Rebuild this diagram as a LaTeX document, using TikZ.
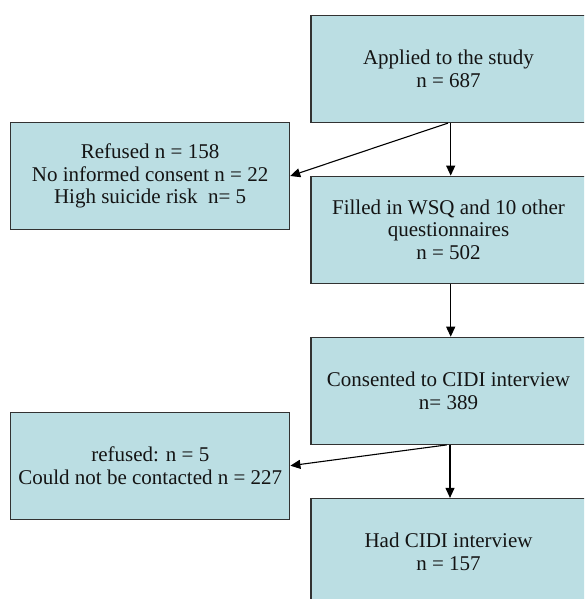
\documentclass[tikz,border=0pt]{standalone}
\usepackage{fontspec}
\setmainfont{Liberation Serif}
\usetikzlibrary{arrows.meta}
\definecolor{boxfill}{RGB}{187,222,227}
\definecolor{boxline}{RGB}{50,50,50}
\definecolor{txt}{RGB}{20,20,20}
\begin{document}
\begin{tikzpicture}[x=1pt,y=-1pt,
  box/.style={draw=boxline, line width=1.2pt, fill=boxfill, align=center, inner sep=0pt,
              font=\fontsize{21}{22.5}\selectfont, text=txt},
  rbox/.style={box, minimum width=275pt, minimum height=107pt},
  lbox/.style={box, minimum width=279pt, minimum height=107pt},
  arr/.style={draw=black, line width=1.1pt, -{Triangle[length=10pt,width=9pt]}}]
\useasboundingbox (0,0) rectangle (584,599);
\clip (0,0) rectangle (584,599);
\node[rbox] (A) at (448.5,69) {Applied to the study\\n = 687};
\node[rbox] (B) at (448.5,229.7) {Filled in WSQ and 10 other\\questionnaires\\n = 502};
\node[rbox] (C) at (448.5,390.8) {Consented to CIDI interview\\n= 389};
\node[rbox] (D) at (448.5,552) {Had CIDI interview\\n = 157};
\node[lbox] (L1) at (150.1,176) {Refused n = 158\\No informed consent n = 22\\High suicide risk\ \ n= 5};
\node[lbox] (L2) at (150.3,465.7) {refused: n = 5\\Could not be contacted n = 227};
\draw[arr] ([xshift=2.2pt]A.south) -- ([xshift=2.2pt]B.north);
\draw[arr] ([xshift=-0.5pt]A.south) -- (L1.east);
\draw[arr] ([xshift=2.2pt]B.south) -- ([xshift=2.2pt]C.north);
\draw[arr] ([xshift=-1.8pt]C.south) -- (L2.east);
\draw[arr] ([xshift=1.5pt]C.south) -- ([xshift=1.5pt]D.north);
\end{tikzpicture}
\end{document}
